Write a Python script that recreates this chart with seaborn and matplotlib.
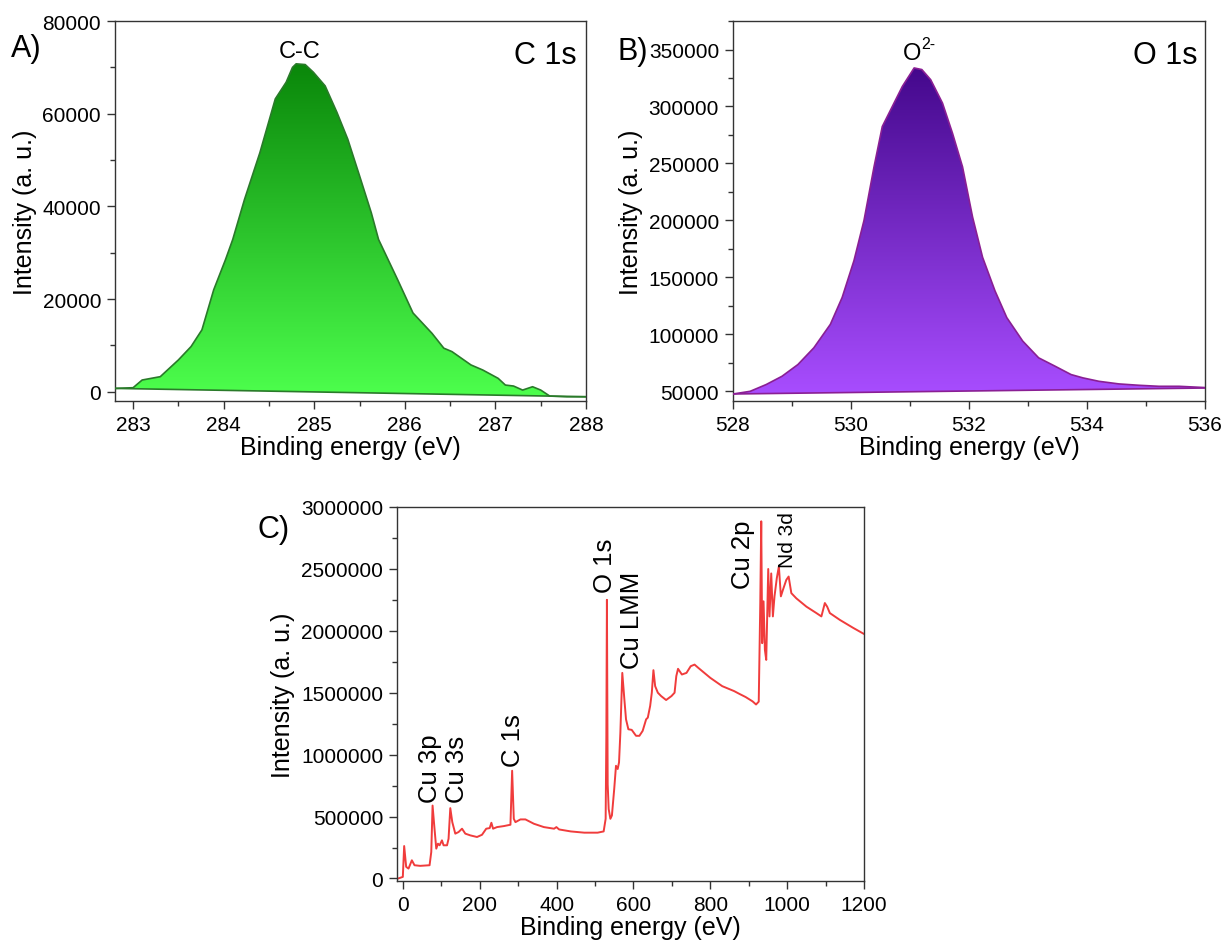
import numpy as np
import pandas as pd
import matplotlib
matplotlib.use("Agg")
import matplotlib.pyplot as plt
import seaborn as sns
from matplotlib.colors import LinearSegmentedColormap
from matplotlib.patches import Polygon
from matplotlib.ticker import MultipleLocator, StrMethodFormatter

# ---------------- data ----------------
# C 1s high-resolution region
c1s_energy = [282.8, 283.0, 283.1, 283.3, 283.5, 283.64, 283.76, 283.89, 284.02, 284.1,
              284.23, 284.4, 284.57, 284.69, 284.76, 284.8, 284.9, 284.99, 285.12, 285.25,
              285.37, 285.5, 285.63, 285.71, 285.92, 286.09, 286.3, 286.43, 286.52, 286.73,
              286.86, 287.03, 287.11, 287.2, 287.3, 287.41, 287.5, 287.6, 287.79, 288.0]
c1s_intensity = [720, 870, 2530, 3250, 6860, 9750, 13360, 22000, 28500, 32850,
                 41500, 51600, 63200, 66800, 70000, 70760, 70600, 68950, 66000, 60300,
                 54500, 46600, 38600, 32850, 24200, 17000, 12600, 9400, 8660, 5780,
                 4690, 2890, 1440, 1230, 360, 1080, 360, -940, -1080, -1080]
c1s_bg_energy = [282.8, 288.0]
c1s_bg_intensity = [720, -1080]

# O 1s high-resolution region
o1s_energy = [528.0, 528.29, 528.56, 528.83, 529.1, 529.37, 529.65, 529.85, 530.05, 530.22,
              530.39, 530.53, 530.7, 530.87, 531.07, 531.2, 531.35, 531.55, 531.72, 531.89,
              532.06, 532.23, 532.44, 532.64, 532.91, 533.18, 533.46, 533.73, 533.93, 534.2,
              534.54, 534.88, 535.22, 535.56, 536.0]
o1s_intensity = [47650, 50000, 55900, 63200, 73500, 88200, 108800, 132400, 164700, 200000,
                 247000, 282400, 300000, 317600, 333800, 332400, 323500, 303000, 276500, 247000,
                 203000, 167600, 138200, 114700, 94100, 79400, 72000, 64700, 61800, 58800,
                 56500, 55300, 54400, 54400, 53300]
o1s_bg_energy = [528.0, 536.0]
o1s_bg_intensity = [47650, 52900]

# Survey spectrum
survey_energy = [-12, 0, 3.5, 8.7, 14.8, 23.5, 30.4, 45, 69.6, 74,
                 77.4, 81.7, 87, 91.4, 95.7, 101.8, 106, 115, 119, 123.5,
                 128.7, 136.5, 145, 154, 162.6, 175.7, 193, 206, 217, 226,
                 230.4, 234.8, 245, 262.6, 280, 284.4, 288.7, 293, 306, 319,
                 341, 367, 393.6, 399.6, 406.6, 437, 472, 506.8, 522.5, 527.7,
                 529.5, 531, 533, 535.6, 540, 544, 550, 554.6, 559, 562.5,
                 566, 571, 576.4, 580.7, 586.8, 595.5, 606.8, 615.5, 624, 633,
                 637.4, 643.5, 647.8, 652, 656.5, 663.5, 672, 685, 699, 707,
                 711.5, 716, 726, 738, 749, 759, 769, 800, 831, 862,
                 876, 892, 910, 919, 926, 930, 932.5, 935, 938.5, 942,
                 945.5, 950.7, 954, 958.5, 962.8, 967, 973, 978.4, 983.6, 988.9,
                 997.7, 1003.8, 1010.8, 1023.8, 1050, 1076, 1089, 1098, 1104, 1111,
                 1137, 1172, 1200]
survey_intensity = [0, 13000, 262000, 94000, 80000, 147000, 107000, 102000, 107000, 214000,
                    589000, 428000, 241000, 281000, 268000, 308000, 268000, 268000, 321000, 568000,
                    455000, 362000, 375000, 402000, 362000, 348000, 335000, 353000, 402000, 407000,
                    450000, 402000, 415000, 423000, 434000, 870000, 482000, 455000, 477000, 477000,
                    442000, 415000, 402000, 415000, 396000, 380000, 370000, 370000, 380000, 482000,
                    1150000, 2250000, 760000, 560000, 482000, 509000, 723000, 910000, 884000, 937000,
                    1178000, 1660000, 1446000, 1285000, 1205000, 1200000, 1152000, 1152000, 1192000, 1285000,
                    1299000, 1393000, 1500000, 1682000, 1553000, 1500000, 1473000, 1441000, 1473000, 1500000,
                    1634000, 1693000, 1647000, 1660000, 1714000, 1727000, 1700000, 1620000, 1553000, 1513000,
                    1490000, 1465000, 1430000, 1405000, 1428000, 2224000, 2884000, 1900000, 2238000, 1846000,
                    1765000, 2499000, 2116000, 2463000, 2116000, 2278000, 2425000, 2520000, 2278000, 2330000,
                    2411000, 2438000, 2304000, 2262000, 2195000, 2143000, 2116000, 2224000, 2195000, 2143000,
                    2088000, 2023000, 1974000]

survey_labels = ["Cu 3p", "Cu 3s", "C 1s", "O 1s", "Cu LMM", "Cu 2p", "Nd 3d"]
survey_label_energy = [71, 140, 287, 527, 596, 884, 1002]
survey_label_intensity = [616000, 616000, 911000, 2317000, 1700000, 2344000, 2518000]

# ---------------- style ----------------
sns.set_style("ticks")
plt.rcParams["font.family"] = ["Liberation Sans", "DejaVu Sans"]
plt.rcParams["text.color"] = "black"
plt.rcParams["axes.labelcolor"] = "black"
plt.rcParams["axes.edgecolor"] = "#333333"
plt.rcParams["axes.linewidth"] = 1.0
plt.rcParams["xtick.color"] = "#333333"
plt.rcParams["ytick.color"] = "#333333"
plt.rcParams["xtick.labelcolor"] = "black"
plt.rcParams["ytick.labelcolor"] = "black"

TICK_FS = 15
LABEL_FS = 18

fig = plt.figure(figsize=(12.27, 9.45), dpi=100)
ax_a = fig.add_axes([0.0937, 0.5746, 0.3839, 0.4021])
ax_b = fig.add_axes([0.5974, 0.5746, 0.3847, 0.4021])
ax_c = fig.add_axes([0.3236, 0.0667, 0.3806, 0.3958])


def style_axis(ax, xmaj, ymaj):
    for s in ax.spines.values():
        s.set_visible(True)
        s.set_color("#333333")
    ax.xaxis.set_major_locator(MultipleLocator(xmaj))
    ax.xaxis.set_minor_locator(MultipleLocator(xmaj / 2))
    ax.yaxis.set_major_locator(MultipleLocator(ymaj))
    ax.yaxis.set_minor_locator(MultipleLocator(ymaj / 2))
    ax.yaxis.set_major_formatter(StrMethodFormatter("{x:.0f}"))
    ax.xaxis.set_major_formatter(StrMethodFormatter("{x:.0f}"))
    ax.tick_params(which="major", direction="out", length=6, width=1,
                   labelsize=TICK_FS, top=False, right=False, pad=4)
    ax.tick_params(which="minor", direction="out", length=3.5, width=1,
                   top=False, right=False)
    ax.set_xlabel("Binding energy (eV)", fontsize=LABEL_FS, labelpad=1)
    ax.set_ylabel("Intensity (a. u.)", fontsize=LABEL_FS, labelpad=4)


def gradient_peak(ax, energy, intensity, bg_e, bg_i, c_low, c_high, edge):
    # polygon enclosing the peak above its linear background
    px = list(energy) + list(bg_e[::-1])
    py = list(intensity) + list(bg_i[::-1])
    poly = Polygon(np.column_stack([px, py]), closed=True, facecolor="none",
                   edgecolor="none", transform=ax.transData)
    ax.add_patch(poly)
    cmap = LinearSegmentedColormap.from_list("peak", [c_low, c_high])
    grad = np.linspace(0, 1, 256).reshape(-1, 1)
    ymin = min(min(intensity), min(bg_i))
    ymax = max(intensity)
    im = ax.imshow(grad, extent=[min(energy), max(energy), ymin, ymax],
                   origin="lower", aspect="auto", cmap=cmap, zorder=1,
                   interpolation="bilinear")
    im.set_clip_path(poly)
    df = pd.DataFrame({"energy": energy, "intensity": intensity})
    sns.lineplot(data=df, x="energy", y="intensity", ax=ax, color=edge,
                 linewidth=1.2, sort=False, zorder=3)
    bg = pd.DataFrame({"energy": bg_e, "intensity": bg_i})
    sns.lineplot(data=bg, x="energy", y="intensity", ax=ax, color=edge,
                 linewidth=1.2, sort=False, zorder=3)


# ---------------- A) C 1s ----------------
gradient_peak(ax_a, c1s_energy, c1s_intensity, c1s_bg_energy, c1s_bg_intensity,
              "#4dff4d", "#0a870a", "#2a7a2a")
ax_a.set_xlim(282.8, 288)
ax_a.set_ylim(-2000, 80000)
style_axis(ax_a, 1, 20000)
ax_a.text(284.84, 72300, "C-C", ha="center", va="baseline", fontsize=17)
ax_a.text(0.981, 0.889, "C 1s", transform=ax_a.transAxes, ha="right",
          va="baseline", fontsize=22)

# ---------------- B) O 1s ----------------
gradient_peak(ax_b, o1s_energy, o1s_intensity, o1s_bg_energy, o1s_bg_intensity,
              "#a84dff", "#44088c", "#8a1f94")
ax_b.set_xlim(528, 536)
ax_b.set_ylim(41500, 375000)
style_axis(ax_b, 2, 50000)
ax_b.text(530.88, 342000, "O", ha="left", va="baseline", fontsize=17)
ax_b.annotate("2-", xy=(530.88, 342000), xytext=(13.5, 7.5), textcoords="offset points",
              ha="left", va="baseline", fontsize=11.5)
ax_b.text(0.983, 0.889, "O 1s", transform=ax_b.transAxes, ha="right",
          va="baseline", fontsize=22)

# ---------------- C) survey ----------------
survey = pd.DataFrame({"energy": survey_energy, "intensity": survey_intensity})
sns.lineplot(data=survey, x="energy", y="intensity", ax=ax_c, color="#f03c3c",
             linewidth=1.4, sort=False)
ax_c.set_xlim(-15, 1200)
ax_c.set_ylim(-20000, 3000000)
style_axis(ax_c, 200, 500000)
for lab, ex, iy in zip(survey_labels, survey_label_energy, survey_label_intensity):
    ax_c.text(ex, iy, lab, rotation=90, ha="center", va="bottom",
              fontsize=15 if lab == "Nd 3d" else 18.5)

# panel letters
fig.text(0.009, 0.9397, "A)", fontsize=22, va="baseline", ha="left")
fig.text(0.503, 0.9365, "B)", fontsize=22, va="baseline", ha="left")
fig.text(0.210, 0.4307, "C)", fontsize=22, va="baseline", ha="left")

fig.savefig("out.png", dpi=100)
